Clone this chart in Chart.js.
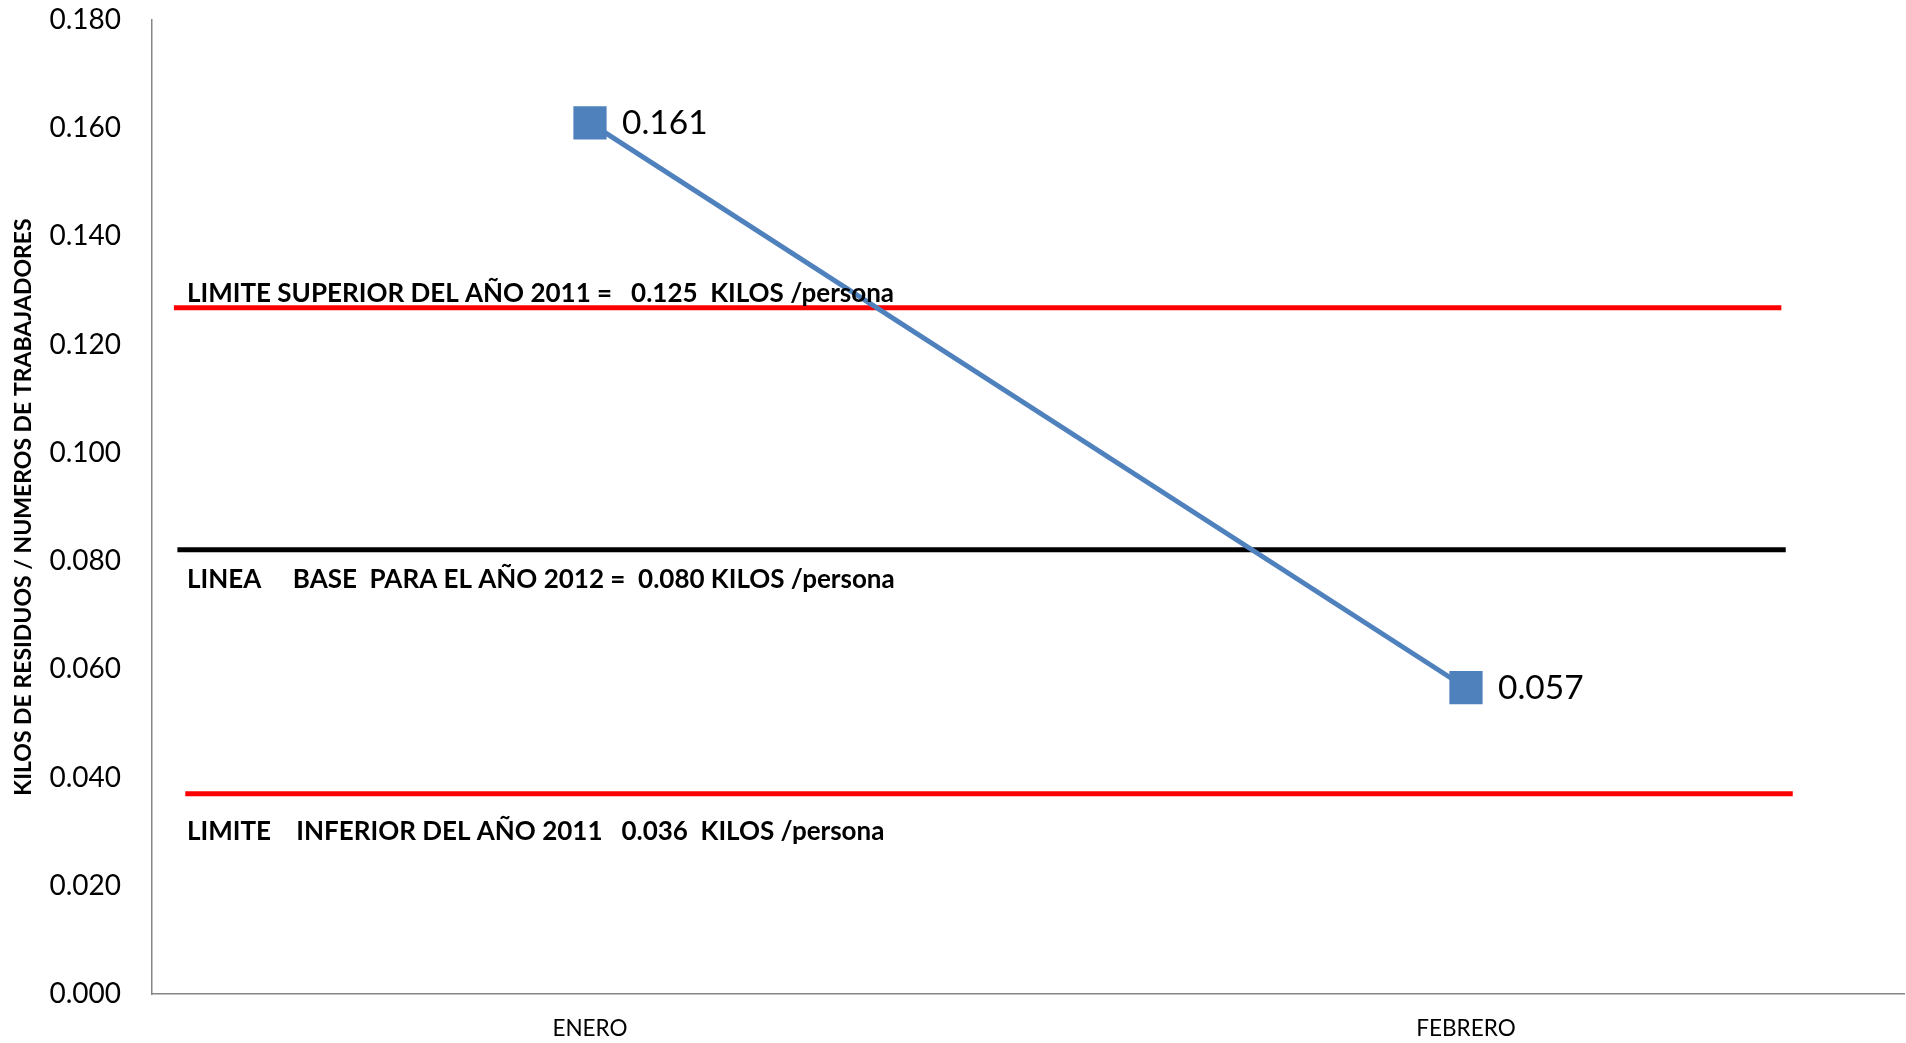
<!DOCTYPE html>
<html>
<head>
<meta charset="utf-8">
<script src="https://cdn.jsdelivr.net/npm/chart.js@4/dist/chart.umd.min.js"></script>
<style>
html,body{margin:0;padding:0;background:#fff;}
#wrap{width:1906px;height:1043px;position:relative;}
</style>
</head>
<body>
<div id="wrap"><canvas id="c"></canvas></div>
<script>
// ---- data ----
const categories = ['ENERO', 'FEBRERO'];
const values = [0.161, 0.0566];
const valueLabels = ['0.161', '0.057'];
const yTicks = [0, 0.02, 0.04, 0.06, 0.08, 0.10, 0.12, 0.14, 0.16, 0.18];
const yTitle = 'KILOS DE RESIDUOS / NUMEROS DE TRABAJADORES';
const refValues = [0.1268, 0.0821, 0.0370];
const refStart = [-0.475, -0.471, -0.462];
const refEnd = [1.360, 1.365, 1.373];
const refTexts = [
  'LIMITE SUPERIOR DEL AÑO 2011 =   0.125  KILOS /persona',
  'LINEA     BASE  PARA EL AÑO 2012 =  0.080 KILOS /persona',
  'LIMITE    INFERIOR DEL AÑO 2011   0.036  KILOS /persona'
];

// ---- styles ----
const refColors = ['#FF0000', '#000000', '#FF0000'];
const refLabelOffsets = [-14, 30, 38];
const blue = '#4F81BD';

const datasets = [{
  type: 'line',
  data: values,
  xAxisID: 'x',
  borderColor: blue,
  borderWidth: 5,
  backgroundColor: blue,
  pointStyle: 'rect',
  pointRadius: 23.5,
  pointBorderWidth: 0,
  pointBackgroundColor: blue,
  tension: 0
}];
refValues.forEach((v, i) => {
  datasets.push({
    type: 'line',
    xAxisID: 'xr',
    data: [{x: refStart[i], y: v}, {x: refEnd[i], y: v}],
    borderColor: refColors[i],
    borderWidth: 5,
    pointRadius: 0,
    borderCapStyle: 'butt'
  });
});

const labelPlugin = {
  id: 'labelPlugin',
  afterDatasetsDraw(chart) {
    const ctx = chart.ctx;
    const y = chart.scales.y;
    ctx.save();
    ctx.fillStyle = '#000';
    ctx.textBaseline = 'middle';
    ctx.textAlign = 'left';
    ctx.font = 'bold 26px Lato';
    refTexts.forEach((t, i) => {
      ctx.fillText(t, chart.chartArea.left + 35, y.getPixelForValue(refValues[i]) + refLabelOffsets[i]);
    });
    ctx.font = '33.5px Lato';
    const meta = chart.getDatasetMeta(0);
    meta.data.forEach((pt, i) => {
      ctx.fillText(valueLabels[i], pt.x + 32, pt.y);
    });
    ctx.restore();
  }
};

new Chart(document.getElementById('c'), {
  type: 'line',
  data: { labels: categories, datasets },
  options: {
    responsive: true,
    maintainAspectRatio: false,
    animation: false,
    layout: { autoPadding: false, padding: { top: 20, right: 2, left: 0, bottom: 0 } },
    plugins: { legend: { display: false }, tooltip: { enabled: false } },
    scales: {
      x: {
        type: 'category',
        offset: true,
        grid: { display: false, drawTicks: false },
        border: { display: true, color: '#868686', width: 1.5 },
        ticks: { color: '#000', font: { family: 'Lato', size: 22.5 }, padding: 21, maxRotation: 0 },
        afterFit(s) { s.height = 49; s.paddingLeft = 0; s.paddingRight = 0; }
      },
      xr: {
        type: 'linear',
        min: -0.5,
        max: 1.5,
        display: false
      },
      y: {
        min: 0,
        max: 0.18,
        afterBuildTicks(s) { s.ticks = yTicks.map(v => ({ value: v })); },
        grid: { display: false, drawTicks: false },
        border: { display: true, color: '#868686', width: 1.5 },
        ticks: { color: '#000', font: { family: 'Lato', size: 28 }, padding: 31,
          callback: v => Number(v).toFixed(3) },
        title: { display: true, text: yTitle, color: '#000',
          font: { family: 'Lato', size: 23, weight: 'bold' }, padding: { top: 10, bottom: 0 } },
        afterFit(s) { s.width = 152; s.paddingTop = 0; s.paddingBottom = 0; }
      }
    }
  },
  plugins: [labelPlugin]
});
</script>
</body>
</html>
